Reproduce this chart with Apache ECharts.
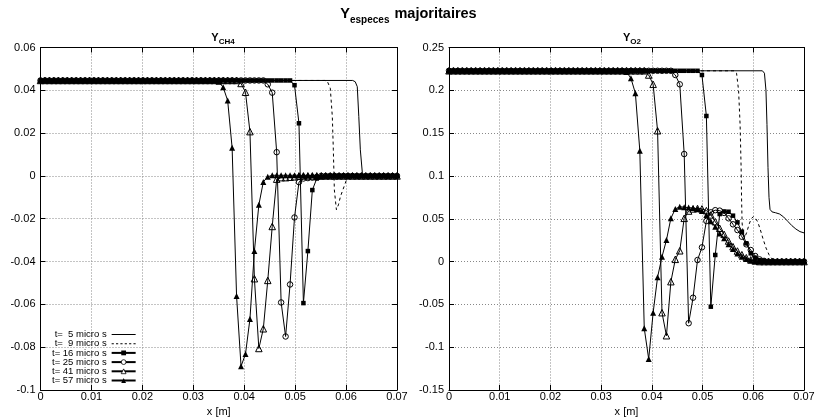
<!DOCTYPE html>
<html>
<head>
<meta charset="utf-8">
<script src="https://cdn.jsdelivr.net/npm/echarts@6/dist/echarts.min.js"></script>
<style>html,body{margin:0;padding:0;background:#fff}#c{width:817px;height:420px}</style>
</head>
<body>
<div id="c"></div>
<script>
// mesh abscissae x [m]
var xs = [0, 0.000875, 0.00175, 0.002625, 0.0035, 0.004375, 0.00525, 0.006125, 0.007, 0.007875,
  0.00875, 0.009625, 0.0105, 0.011375, 0.01225, 0.013125, 0.014, 0.014875, 0.01575, 0.016625,
  0.0175, 0.018375, 0.01925, 0.020125, 0.021, 0.021875, 0.02275, 0.023625, 0.0245, 0.025375,
  0.02625, 0.027125, 0.028, 0.028875, 0.02975, 0.030625, 0.0315, 0.032375, 0.03325, 0.034125,
  0.035, 0.035875, 0.03675, 0.037625, 0.0385, 0.039375, 0.04025, 0.041125, 0.042, 0.042875,
  0.04375, 0.044625, 0.0455, 0.046375, 0.04725, 0.048125, 0.049, 0.049875, 0.05075, 0.051625,
  0.0525, 0.053375, 0.05425, 0.055125, 0.056, 0.056875, 0.05775, 0.058625, 0.0595, 0.060375,
  0.06125, 0.062125, 0.063, 0.063875, 0.06475, 0.065625, 0.0665, 0.067375, 0.06825, 0.069125, 0.07];

var seriesNames = ['t=  5 micro s', 't=  9 micro s', 't= 16 micro s', 't= 25 micro s', 't= 41 micro s', 't= 57 micro s'];
var xTicks = [0, 0.01, 0.02, 0.03, 0.04, 0.05, 0.06, 0.07];
var yTicksCH4 = [-0.1, -0.08, -0.06, -0.04, -0.02, 0, 0.02, 0.04, 0.06];
var yTicksO2 = [-0.15, -0.1, -0.05, 0, 0.05, 0.1, 0.15, 0.2, 0.25];

// ---- Y_CH4 ----
var ch4_t5_x = [0, 0.0613, 0.0618, 0.0622, 0.0625, 0.0628, 0.0632, 0.0636, 0.07];
var ch4_t5_y = [0.0446, 0.0446, 0.0440, 0.0417, 0.0277, 0.0122, 0.0013, 0, 0];
var ch4_t9_x = [0, 0.0558, 0.0563, 0.0569, 0.0573, 0.0575, 0.0577, 0.0581, 0.0585, 0.0589, 0.0596, 0.0602, 0.0608, 0.07];
var ch4_t9_y = [0.0446, 0.0446, 0.0443, 0.0410, 0.0277, 0.0122, -0.0065, -0.0158, -0.0135, -0.0096, -0.0050, -0.0011, 0, 0];
var ch4_t16 = [0.0446, 0.0446, 0.0446, 0.0446, 0.0446, 0.0446, 0.0446, 0.0446, 0.0446, 0.0446,
  0.0446, 0.0446, 0.0446, 0.0446, 0.0446, 0.0446, 0.0446, 0.0446, 0.0446, 0.0446,
  0.0446, 0.0446, 0.0446, 0.0446, 0.0446, 0.0446, 0.0446, 0.0446, 0.0446, 0.0446,
  0.0446, 0.0446, 0.0446, 0.0446, 0.0446, 0.0446, 0.0446, 0.0446, 0.0446, 0.0446,
  0.0446, 0.0446, 0.0446, 0.0446, 0.0446, 0.0446, 0.0446, 0.0446, 0.0446, 0.0446,
  0.0446, 0.0446, 0.0446, 0.0446, 0.0446, 0.0446, 0.0446, 0.0424, 0.0246, -0.0594,
  -0.0351, -0.0066, -0.0012, -0.0006, -0.0003, 0, 0, 0, 0, 0,
  0, 0, 0, 0, 0, 0, 0, 0, 0, 0, 0];
var ch4_t25 = [0.0446, 0.0446, 0.0446, 0.0446, 0.0446, 0.0446, 0.0446, 0.0446, 0.0446, 0.0446,
  0.0446, 0.0446, 0.0446, 0.0446, 0.0446, 0.0446, 0.0446, 0.0446, 0.0446, 0.0446,
  0.0446, 0.0446, 0.0446, 0.0446, 0.0446, 0.0446, 0.0446, 0.0446, 0.0446, 0.0446,
  0.0446, 0.0446, 0.0446, 0.0446, 0.0446, 0.0446, 0.0446, 0.0446, 0.0446, 0.0446,
  0.0446, 0.0446, 0.0446, 0.0446, 0.0446, 0.0446, 0.0446, 0.0446, 0.0446, 0.0446,
  0.0446, 0.0428, 0.0389, 0.0111, -0.0591, -0.0750, -0.0507, -0.0194, -0.0029, -0.0012,
  -0.0010, -0.0008, -0.0005, 0, 0, 0, 0, 0, 0, 0,
  0, 0, 0, 0, 0, 0, 0, 0, 0, 0, 0];
var ch4_t41 = [0.0446, 0.0446, 0.0446, 0.0446, 0.0446, 0.0446, 0.0446, 0.0446, 0.0446, 0.0446,
  0.0446, 0.0446, 0.0446, 0.0446, 0.0446, 0.0446, 0.0446, 0.0446, 0.0446, 0.0446,
  0.0446, 0.0446, 0.0446, 0.0446, 0.0446, 0.0446, 0.0446, 0.0446, 0.0446, 0.0446,
  0.0446, 0.0446, 0.0446, 0.0446, 0.0446, 0.0446, 0.0446, 0.0446, 0.0446, 0.0446,
  0.0446, 0.0446, 0.0446, 0.0446, 0.0446, 0.0432, 0.0391, 0.0207, -0.0480, -0.0806,
  -0.0714, -0.0488, -0.0236, -0.0015, -0.0008, -0.0008, -0.0006, -0.0004, 0, 0,
  0, 0, 0, 0, 0, 0, 0, 0, 0, 0,
  0, 0, 0, 0, 0, 0, 0, 0, 0, 0, 0];
var ch4_t57 = [0.0446, 0.0446, 0.0446, 0.0446, 0.0446, 0.0446, 0.0446, 0.0446, 0.0446, 0.0446,
  0.0446, 0.0446, 0.0446, 0.0446, 0.0446, 0.0446, 0.0446, 0.0446, 0.0446, 0.0446,
  0.0446, 0.0446, 0.0446, 0.0446, 0.0446, 0.0446, 0.0446, 0.0446, 0.0446, 0.0446,
  0.0446, 0.0446, 0.0446, 0.0446, 0.0446, 0.0446, 0.0446, 0.0446, 0.0446, 0.0446,
  0.0440, 0.0414, 0.0352, 0.0132, -0.0561, -0.0889, -0.0832, -0.0668, -0.0351, -0.0135,
  -0.0028, -0.0004, 0.0003, 0.0003, 0.0003, 0.0003, 0.0003, 0.0003, 0.0003, 0.0003,
  0.0003, 0.0003, 0.0003, 0.0003, 0.0003, 0.0003, 0.0003, 0.0003, 0.0003, 0.0003,
  0.0003, 0.0003, 0.0003, 0.0003, 0.0003, 0.0003, 0.0003, 0.0003, 0.0003, 0.0003, 0.0003];

// ---- Y_O2 ----
var o2_t5_x = [0, 0.0618, 0.0622, 0.0625, 0.0627, 0.0629, 0.0631, 0.0633, 0.0637, 0.0644, 0.0652, 0.0660, 0.0668, 0.0676, 0.0684, 0.0692, 0.07];
var o2_t5_y = [0.2228, 0.2228, 0.2200, 0.2000, 0.1600, 0.1100, 0.0750, 0.0610, 0.0580, 0.0570, 0.0555, 0.0520, 0.0470, 0.0420, 0.0380, 0.0350, 0.0335];
var o2_t9_x = [0, 0.0562, 0.0567, 0.0571, 0.0574, 0.0576, 0.0577, 0.0578, 0.0580, 0.0583, 0.0587, 0.0592, 0.0596, 0.0600, 0.0604, 0.0609, 0.0614, 0.0619, 0.0625, 0.0631, 0.0637, 0.0645, 0.07];
var o2_t9_y = [0.2228, 0.2228, 0.2200, 0.2000, 0.1600, 0.1100, 0.0700, 0.0450, 0.0310, 0.0280, 0.0340, 0.0440, 0.0500, 0.0525, 0.0510, 0.0460, 0.0370, 0.0270, 0.0160, 0.0080, 0.0030, 0.0005, 0];
var o2_t16 = [0.2228, 0.2228, 0.2228, 0.2228, 0.2228, 0.2228, 0.2228, 0.2228, 0.2228, 0.2228,
  0.2228, 0.2228, 0.2228, 0.2228, 0.2228, 0.2228, 0.2228, 0.2228, 0.2228, 0.2228,
  0.2228, 0.2228, 0.2228, 0.2228, 0.2228, 0.2228, 0.2228, 0.2228, 0.2228, 0.2228,
  0.2228, 0.2228, 0.2228, 0.2228, 0.2228, 0.2228, 0.2228, 0.2228, 0.2228, 0.2228,
  0.2228, 0.2228, 0.2228, 0.2228, 0.2228, 0.2228, 0.2228, 0.2228, 0.2228, 0.2228,
  0.2228, 0.2228, 0.2228, 0.2228, 0.2228, 0.2228, 0.2228, 0.2179, 0.1700, -0.0527,
  0.0077, 0.0555, 0.0585, 0.0582, 0.0536, 0.0458, 0.0348, 0.0213, 0.0096, 0.0045,
  0.0015, 0.0005, 0, 0, 0, 0, 0, 0, 0, 0, 0];
var o2_t25 = [0.2228, 0.2228, 0.2228, 0.2228, 0.2228, 0.2228, 0.2228, 0.2228, 0.2228, 0.2228,
  0.2228, 0.2228, 0.2228, 0.2228, 0.2228, 0.2228, 0.2228, 0.2228, 0.2228, 0.2228,
  0.2228, 0.2228, 0.2228, 0.2228, 0.2228, 0.2228, 0.2228, 0.2228, 0.2228, 0.2228,
  0.2228, 0.2228, 0.2228, 0.2228, 0.2228, 0.2228, 0.2228, 0.2228, 0.2228, 0.2228,
  0.2228, 0.2228, 0.2228, 0.2228, 0.2228, 0.2228, 0.2228, 0.2228, 0.2228, 0.2228,
  0.2228, 0.2179, 0.2070, 0.1256, -0.0720, -0.0422, 0.0018, 0.0166, 0.0474, 0.0575,
  0.0600, 0.0595, 0.0568, 0.0505, 0.0435, 0.0368, 0.0290, 0.0201, 0.0135, 0.0065,
  0.0025, 0.0008, 0, 0, 0, 0, 0, 0, 0, 0, 0];
var o2_t41 = [0.2228, 0.2228, 0.2228, 0.2228, 0.2228, 0.2228, 0.2228, 0.2228, 0.2228, 0.2228,
  0.2228, 0.2228, 0.2228, 0.2228, 0.2228, 0.2228, 0.2228, 0.2228, 0.2228, 0.2228,
  0.2228, 0.2228, 0.2228, 0.2228, 0.2228, 0.2228, 0.2228, 0.2228, 0.2228, 0.2228,
  0.2228, 0.2228, 0.2228, 0.2228, 0.2228, 0.2228, 0.2228, 0.2228, 0.2228, 0.2228,
  0.2228, 0.2228, 0.2228, 0.2228, 0.2228, 0.2179, 0.2070, 0.1528, -0.0597, -0.0866,
  -0.0235, 0.0026, 0.0126, 0.0505, 0.0590, 0.0615, 0.0620, 0.0615, 0.0595, 0.0545,
  0.0466, 0.0389, 0.0318, 0.0240, 0.0174, 0.0123, 0.0080, 0.0045, 0.0020, 0.0008,
  0, 0, 0, 0, 0, 0, 0, 0, 0, 0, 0];
var o2_t57 = [0.2228, 0.2228, 0.2228, 0.2228, 0.2228, 0.2228, 0.2228, 0.2228, 0.2228, 0.2228,
  0.2228, 0.2228, 0.2228, 0.2228, 0.2228, 0.2228, 0.2228, 0.2228, 0.2228, 0.2228,
  0.2228, 0.2228, 0.2228, 0.2228, 0.2228, 0.2228, 0.2228, 0.2228, 0.2228, 0.2228,
  0.2228, 0.2228, 0.2228, 0.2228, 0.2228, 0.2228, 0.2228, 0.2228, 0.2228, 0.2228,
  0.2215, 0.2140, 0.1965, 0.1295, -0.0780, -0.1138, -0.0597, -0.0183, 0.0056, 0.0251,
  0.0505, 0.0615, 0.0640, 0.0635, 0.0630, 0.0625, 0.0615, 0.0590, 0.0544, 0.0470,
  0.0407, 0.0329, 0.0271, 0.0201, 0.0146, 0.0095, 0.0056, 0.0029, 0.0012, 0.0005,
  0, 0, 0, 0, 0, 0, 0, 0, 0, 0, 0];

function pairs(x, y) { var out = []; for (var i = 0; i < y.length; i++) out.push([x[i], y[i]]); return out; }
function fmt(v) { return String(Math.round(v * 1000) / 1000); }

var FONT = "'Liberation Sans', Arial, sans-serif";
var chart = echarts.init(document.getElementById('c'), null, {renderer: 'canvas'});

var grids = [
  {left: 40.5, right: 420, top: 47.5, bottom: 30, outerBoundsMode: 'none', containLabel: false},
  {left: 449, right: 13, top: 47.5, bottom: 30, outerBoundsMode: 'none', containLabel: false}
];
var yTickSets = [yTicksCH4, yTicksO2];

var xAxes = [], yAxes = [];
for (var g = 0; g < 2; g++) {
  var yt = yTickSets[g];
  var common = {
    gridIndex: g, type: 'value',
    axisLine: {show: true, onZero: false, lineStyle: {color: '#000', width: 1}},
    axisTick: {show: true, inside: true, length: 5, lineStyle: {color: '#000'}}
  };
  xAxes.push(Object.assign({}, common, {
    position: 'bottom', min: xTicks[0], max: xTicks[xTicks.length - 1], interval: xTicks[1] - xTicks[0],
    name: 'x [m]', nameLocation: 'middle', nameGap: 16,
    nameTextStyle: {color: '#000', fontFamily: FONT, fontSize: 11},
    axisLabel: {color: '#000', fontFamily: FONT, fontSize: 11, margin: 1, formatter: fmt},
    splitLine: {show: true, lineStyle: {color: '#888', type: [1, 2], width: 1}}
  }));
  xAxes.push(Object.assign({}, common, {
    position: 'top', min: xTicks[0], max: xTicks[xTicks.length - 1], interval: xTicks[1] - xTicks[0],
    axisLabel: {show: false}, splitLine: {show: false}
  }));
  yAxes.push(Object.assign({}, common, {
    position: 'left', min: yt[0], max: yt[yt.length - 1], interval: yt[1] - yt[0],
    axisLabel: {color: '#000', fontFamily: FONT, fontSize: 11, margin: 5, formatter: fmt},
    splitLine: {show: true, lineStyle: {color: '#888', type: [1, 2], width: 1}}
  }));
  yAxes.push(Object.assign({}, common, {
    position: 'right', min: yt[0], max: yt[yt.length - 1], interval: yt[1] - yt[0],
    axisLabel: {show: false}, splitLine: {show: false}
  }));
}

var styles = [
  {symbol: 'none', dash: 'solid', icon: 'path://M0,0L24,0L24,1L0,1Z'},
  {symbol: 'none', dash: [3, 3], icon: 'path://M0,0h2v1h-2zM4,0h2v1h-2zM8,0h2v1h-2zM12,0h2v1h-2zM16,0h2v1h-2zM20,0h2v1h-2z'},
  {symbol: 'rect', size: 4.5, fill: '#000'},
  {symbol: 'circle', size: 5.5, fill: 'rgba(0,0,0,0)'},
  {symbol: 'triangle', size: 6.5, fill: 'rgba(0,0,0,0)'},
  {symbol: 'triangle', size: 6, fill: '#000'}
];

var panelData = [
  [pairs(ch4_t5_x, ch4_t5_y), pairs(ch4_t9_x, ch4_t9_y), pairs(xs, ch4_t16), pairs(xs, ch4_t25), pairs(xs, ch4_t41), pairs(xs, ch4_t57)],
  [pairs(o2_t5_x, o2_t5_y), pairs(o2_t9_x, o2_t9_y), pairs(xs, o2_t16), pairs(xs, o2_t25), pairs(xs, o2_t41), pairs(xs, o2_t57)]
];

var series = [];
for (var p = 0; p < 2; p++) {
  for (var k = 0; k < 6; k++) {
    var st = styles[k];
    var s = {
      name: seriesNames[k], type: 'line', xAxisIndex: p * 2, yAxisIndex: p * 2,
      data: panelData[p][k], animation: false, silent: true, clip: true,
      lineStyle: {color: '#000', width: 1, type: st.dash || 'solid'},
      z: 2 + k
    };
    if (st.symbol === 'none') {
      s.symbol = 'none'; s.showSymbol = false;
      s.itemStyle = {color: '#000'};
    } else {
      s.symbol = st.symbol; s.symbolSize = st.size; s.showSymbol = true; s.showAllSymbol = true;
      s.itemStyle = {color: st.fill, borderColor: '#000', borderWidth: st.fill === '#000' ? 0 : 1};
    }
    series.push(s);
  }
}

var legendData = seriesNames.map(function (n, i) {
  var st = styles[i];
  if (st.icon) return {name: n, icon: st.icon, itemStyle: {color: '#000'}};
  if (st.fill !== '#000') return {name: n, itemStyle: {color: '#fff', borderColor: '#000', borderWidth: 0.8}};
  return {name: n};
});

chart.setOption({
  backgroundColor: '#fff',
  animation: false,
  title: [
    {text: '{y|Y}{s|especes} {y|majoritaires}', left: 'center', top: 1,
      textStyle: {rich: {
        y: {fontFamily: FONT, fontWeight: 'bold', fontSize: 14.5, color: '#000', padding: [0, 0, 4, 0], verticalAlign: 'bottom'},
        s: {fontFamily: FONT, fontWeight: 'bold', fontSize: 10, color: '#000', verticalAlign: 'bottom'}
      }}},
    {text: '{y|Y}{s|CH4}', left: 218, textAlign: 'center', top: 27,
      textStyle: {rich: {
        y: {fontFamily: FONT, fontWeight: 'bold', fontSize: 11, color: '#000', padding: [0, 0, 3, 0], verticalAlign: 'bottom'},
        s: {fontFamily: FONT, fontWeight: 'bold', fontSize: 8, color: '#000', verticalAlign: 'bottom'}
      }}},
    {text: '{y|Y}{s|O2}', left: 627, textAlign: 'center', top: 27,
      textStyle: {rich: {
        y: {fontFamily: FONT, fontWeight: 'bold', fontSize: 11, color: '#000', padding: [0, 0, 3, 0], verticalAlign: 'bottom'},
        s: {fontFamily: FONT, fontWeight: 'bold', fontSize: 8, color: '#000', verticalAlign: 'bottom'}
      }}}
  ],
  legend: {
    data: legendData, orient: 'vertical', align: 'right', left: 52, top: 329.5,
    itemWidth: 24, itemHeight: 6, itemGap: -0.8, padding: 0, selectedMode: false,
    textStyle: {color: '#000', fontFamily: FONT, fontSize: 9.5, lineHeight: 8.6}
  },
  grid: grids,
  xAxis: xAxes,
  yAxis: yAxes,
  series: series
});
</script>
</body>
</html>
